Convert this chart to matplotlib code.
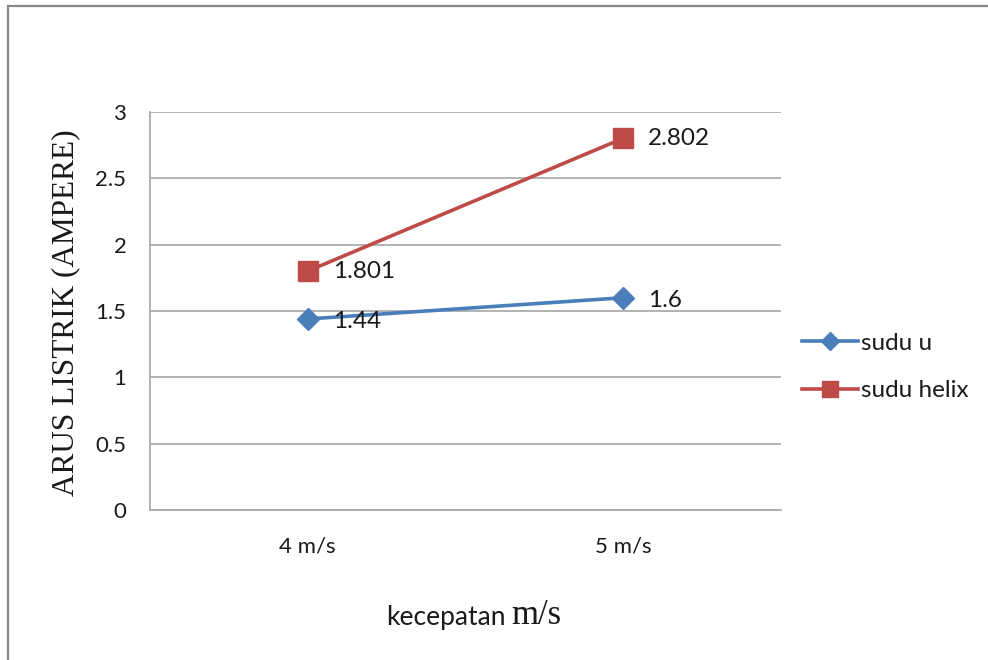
import matplotlib
matplotlib.use("Agg")
import matplotlib.pyplot as plt
from matplotlib.patches import Rectangle
from matplotlib.lines import Line2D

categories = ["4 m/s", "5 m/s"]
sudu_u = [1.44, 1.6]
sudu_helix = [1.801, 2.802]
series_names = ["sudu u", "sudu helix"]
y_ticks = [0, 0.5, 1, 1.5, 2, 2.5, 3]
y_tick_labels = ["0", "0.5", "1", "1.5", "2", "2.5", "3"]

BLUE = "#4A7EBB"
RED = "#BE4B48"
GRID = "#A6A6A6"
SANS = "Lato"
SERIF = "Liberation Serif"
TEXT = "#1a1a1a"

W, H = 988, 660
fig = plt.figure(figsize=(W / 100, H / 100), dpi=100)
fig.patch.set_facecolor("white")

# outer chart frame
fig.add_artist(Rectangle((8 / W, -0.1), 1.2, 1.1 - 6 / H,
                         transform=fig.transFigure, fill=False,
                         edgecolor="#878787", linewidth=1.6))

ax = fig.add_axes([150 / W, 1 - 510 / H, 631 / W, 398 / H])
x = list(range(len(categories)))

ax.plot(x, sudu_u, color=BLUE, lw=2.6, marker="D", ms=11,
        markerfacecolor=BLUE, markeredgecolor=BLUE, zorder=3,
        solid_capstyle="round")
ax.plot(x, sudu_helix, color=RED, lw=2.6, marker="s", ms=14,
        markerfacecolor=RED, markeredgecolor=RED, zorder=3,
        solid_capstyle="round")

for xi, v in zip(x, sudu_u):
    ax.annotate(f"{v:g}", (xi, v), xytext=(18, -2), textcoords="offset points",
                ha="left", va="center", fontsize=17.5, family=SANS, color=TEXT)
for xi, v in zip(x, sudu_helix):
    ax.annotate(f"{v:g}", (xi, v), xytext=(18, 0), textcoords="offset points",
                ha="left", va="center", fontsize=17.5, family=SANS, color=TEXT)

ax.set_xlim(-0.5, len(categories) - 0.5)
ax.set_ylim(0, 3)
ax.set_yticks(y_ticks)
ax.set_yticklabels(y_tick_labels, family=SANS, fontsize=16, color=TEXT)
ax.set_xticks(x)
ax.set_xticklabels(categories, family=SANS, fontsize=16, color=TEXT)
ax.tick_params(axis="y", length=0, pad=17)
ax.tick_params(axis="x", length=0, pad=19)

ax.yaxis.grid(True, color=GRID, lw=1.2)
ax.set_axisbelow(True)
for side in ("top", "right"):
    ax.spines[side].set_visible(False)
for side in ("left", "bottom"):
    ax.spines[side].set_color(GRID)
    ax.spines[side].set_linewidth(1.2)

ax.set_ylabel("ARUS LISTRIK (AMPERE)", family=SERIF, fontsize=22.5, color=TEXT)
ax.yaxis.set_label_coords((80 - 150) / 631, (510 - 312.5) / 398)

# x axis title: sans word followed by serif unit
fig.text(506 / W, 1 - 617 / H, "kecepatan", ha="right", va="center",
         family=SANS, fontsize=19, color=TEXT)
fig.text(511 / W, 1 - 616 / H, "m/s", ha="left", va="center",
         family=SERIF, fontsize=25, color=TEXT)

handles = [
    Line2D([], [], color=BLUE, lw=2.6, marker="D", ms=9),
    Line2D([], [], color=RED, lw=2.6, marker="s", ms=11),
]
leg = fig.legend(handles, series_names, loc="center left",
                 bbox_to_anchor=(792 / W, 1 - 367 / H), frameon=False,
                 prop={"family": SANS, "size": 17.5}, handlelength=2.3,
                 handletextpad=0.12, labelspacing=1.1, borderaxespad=0)
for t in leg.get_texts():
    t.set_color(TEXT)

fig.savefig("out.png", dpi=100, facecolor="white")
